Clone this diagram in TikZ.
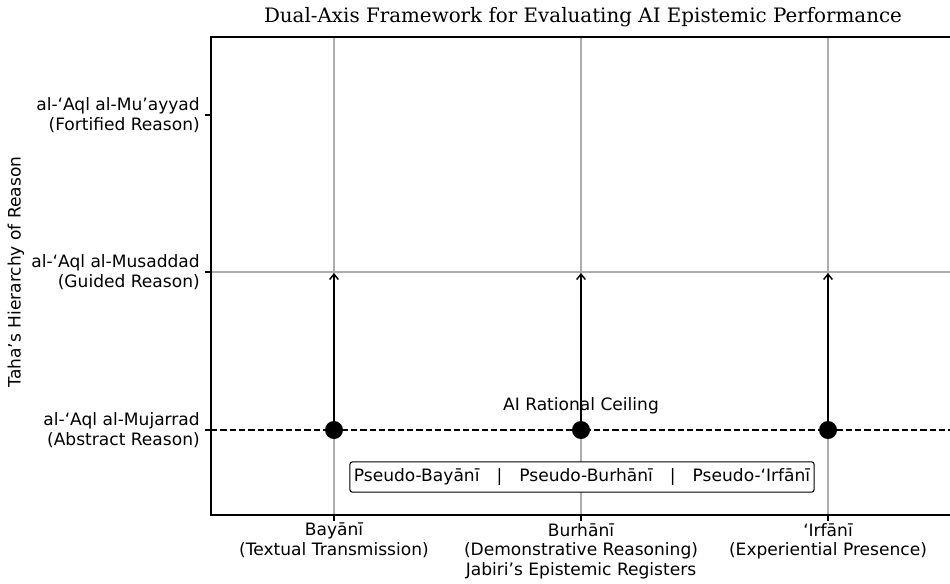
\documentclass[tikz,border=0pt]{standalone}
\usepackage{fontspec}
\setmainfont{DejaVu Sans}
\newfontfamily\titlefont{DejaVu Serif}
\usetikzlibrary{arrows.meta}
\begin{document}
\begin{tikzpicture}[x=0.75pt,y=-0.75pt,
  lbl/.style={font=\fontsize{12.8}{14.6}\selectfont, inner sep=0pt},
  grid/.style={draw=gray!65, line width=0.8pt},
  axisline/.style={draw=black, line width=1.6pt},
  tickmark/.style={draw=black, line width=1pt},
  dot/.style={circle, fill=black, minimum size=13.5pt, inner sep=0pt},
  ceiling/.style={draw=black, line width=2pt, dash pattern=on 4.8pt off 2.2pt},
  uparrow/.style={draw=black, line width=1.1pt, -{Straight Barb[length=4pt,width=6.5pt]}}]
\useasboundingbox (0,0) rectangle (950,583);
% title
\node[font=\titlefont\fontsize{14.9}{17}\selectfont, inner sep=0pt] (title) at (583,17) {Dual-Axis Framework for Evaluating AI Epistemic Performance};
% grid
\coordinate (gtB) at (334,37); \coordinate (gbB) at (334,515);
\coordinate (gtU) at (581,37); \coordinate (gbU) at (581,515);
\coordinate (gtI) at (828,37); \coordinate (gbI) at (828,515);
\draw[grid] (gtB) -- (gbB);
\draw[grid] (gtU) -- (gbU);
\draw[grid] (gtI) -- (gbI);
\coordinate (hl) at (211,272); \coordinate (hr) at (950,272);
\draw[grid] (hl) -- (hr);
% axes
\coordinate (tl) at (211,37); \coordinate (tr) at (950,37);
\coordinate (bl) at (211,515); \coordinate (br) at (950,515);
\draw[axisline] (tr) -- (tl) -- (bl) -- (br);
% y ticks
\foreach \y/\n in {115/a,272/b,430/c}{
  \coordinate (yt\n) at (205,\y); \coordinate (ya\n) at (211,\y);
  \draw[tickmark] (yt\n) -- (ya\n);}
% x ticks
\foreach \x/\n in {334/a,581/b,828/c}{
  \coordinate (xt\n) at (\x,521); \coordinate (xa\n) at (\x,515);
  \draw[tickmark] (xt\n) -- (xa\n);}
% ceiling
\coordinate (cl) at (211,430); \coordinate (cr) at (950,430);
\draw[ceiling] (cl) -- (cr);
\node[lbl] (ceil) at (581,406) {AI Rational Ceiling};
% dots and arrows
\node[dot] (dB) at (334,430) {};
\node[dot] (dU) at (581,430) {};
\node[dot] (dI) at (828,430) {};
\coordinate (aB) at (334,273); \coordinate (aU) at (581,273); \coordinate (aI) at (828,273);
\draw[uparrow] (dB) -- (aB);
\draw[uparrow] (dU) -- (aU);
\draw[uparrow] (dI) -- (aI);
% pseudo box
\node[lbl, draw=black, line width=0.8pt, fill=white, rounded corners=2pt, inner xsep=3pt, inner ysep=5pt] (pseudo) at (582,477) {Pseudo-Bayānī\quad|\quad Pseudo-Burhānī\quad|\quad Pseudo-‘Irfānī};
% y labels
\node[lbl, align=right, anchor=east] (yl1) at (200,115) {al-‘Aql al-Mu’ayyad\\(Fortified Reason)};
\node[lbl, align=right, anchor=east] (yl2) at (200,272) {al-‘Aql al-Musaddad\\(Guided Reason)};
\node[lbl, align=right, anchor=east] (yl3) at (200,430) {al-‘Aql al-Mujarrad\\(Abstract Reason)};
\node[lbl, rotate=90] (ytitle) at (16,272) {Taha’s Hierarchy of Reason};
% x labels
\node[lbl, align=center, anchor=north] (xl1) at (334,523) {Bayānī\\(Textual Transmission)};
\node[lbl, align=center, anchor=north] (xl2) at (581,523) {Burhānī\\(Demonstrative Reasoning)};
\node[lbl, align=center, anchor=north] (xl3) at (828,523) {‘Irfānī\\(Experiential Presence)};
\node[lbl] (xtitle) at (581,571) {Jabiri’s Epistemic Registers};
\end{tikzpicture}
\end{document}
